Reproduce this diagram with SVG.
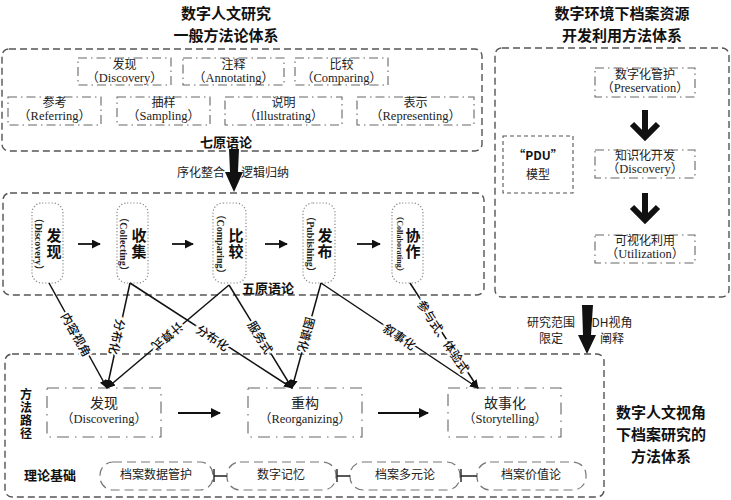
<svg xmlns="http://www.w3.org/2000/svg" width="731" height="500" viewBox="0 0 731 500">
<style>
.title{font-family:"Noto Sans CJK SC","Liberation Sans",sans-serif;font-size:15px;font-weight:700;fill:#111;text-anchor:middle}
.hd{font-family:"Noto Sans CJK SC","Liberation Sans",sans-serif;font-size:13px;font-weight:700;fill:#111;text-anchor:middle}
.outer{fill:none;stroke:#555;stroke-width:1.4;stroke-dasharray:7,4}
.dd{fill:none;stroke:#666;stroke-width:1.1;stroke-dasharray:9,4,1.5,4}
.dot{fill:none;stroke:#888;stroke-width:1.2;stroke-dasharray:1.2,2}
.zh{font-family:"Noto Sans CJK SC",sans-serif;font-size:12px;fill:#222;text-anchor:middle}
.en{font-family:"Liberation Serif","Noto Sans CJK SC",serif;font-size:12.5px;fill:#222;text-anchor:middle}
.vzh{font-family:"Noto Sans CJK SC",sans-serif;font-size:15px;font-weight:700;fill:#111;text-anchor:middle;writing-mode:vertical-rl;letter-spacing:1px}
.ven{font-family:"Liberation Serif","Noto Sans CJK SC",serif;font-size:10px;font-weight:700;fill:#222;text-anchor:middle;dominant-baseline:central}
.lbl{font-family:"Noto Sans CJK SC",sans-serif;font-size:12px;font-weight:500;fill:#111;text-anchor:middle;dominant-baseline:central;stroke:#fff;stroke-width:4;paint-order:stroke}
.ln{stroke:#111;stroke-width:1.5;fill:none}
.ar{stroke:#111;stroke-width:1.8;fill:none;marker-end:url(#ah)}
.th{fill:none;stroke:#777;stroke-width:1.2;stroke-dasharray:9,5}
.sm{font-family:"Noto Sans CJK SC",sans-serif;font-size:12px;fill:#222;text-anchor:middle}
.vt{font-family:"Noto Sans CJK SC",sans-serif;font-size:12px;font-weight:700;fill:#111;text-anchor:middle;writing-mode:vertical-rl;letter-spacing:1px}
</style>
<defs>
<marker id="ah" viewBox="0 0 10 10" refX="9" refY="5" markerWidth="5" markerHeight="5" orient="auto">
<path d="M0,0 L10,5 L0,10 z" fill="#111"/>
</marker>
<marker id="ah2" viewBox="0 0 10 10" refX="9" refY="5" markerWidth="6" markerHeight="6" orient="auto">
<path d="M0,1 L10,5 L0,9 z" fill="#111"/>
</marker>
</defs>
<rect width="731" height="500" fill="#fff"/>

<!-- titles -->
<text class="title" x="226" y="19">数字人文研究</text>
<text class="title" x="226" y="41">一般方法论体系</text>
<text class="title" x="622" y="19">数字环境下档案资源</text>
<text class="title" x="622" y="41">开发利用方法体系</text>

<!-- top box: seven primitives -->
<g id="seven">
<rect class="outer" x="2" y="49" width="480" height="102" rx="7"/>
<g id="t-discovery"><rect class="dd" x="78" y="58" width="93" height="27"/><text class="zh" x="124.5" y="69">发现</text><text class="en" x="124.5" y="82">（Discovery）</text></g>
<g id="t-annotating"><rect class="dd" x="183" y="58" width="101" height="27"/><text class="zh" x="233.5" y="69">注释</text><text class="en" x="233.5" y="82">（Annotating）</text></g>
<g id="t-comparing"><rect class="dd" x="295" y="58" width="93" height="27"/><text class="zh" x="341.5" y="69">比较</text><text class="en" x="341.5" y="82">（Comparing）</text></g>
<g id="t-referring"><rect class="dd" x="8" y="97" width="93" height="28"/><text class="zh" x="54.5" y="107">参考</text><text class="en" x="54.5" y="120">（Referring）</text></g>
<g id="t-sampling"><rect class="dd" x="117" y="97" width="93" height="28"/><text class="zh" x="163.5" y="107">抽样</text><text class="en" x="163.5" y="120">（Sampling）</text></g>
<g id="t-illustrating"><rect class="dd" x="225" y="97" width="117" height="28"/><text class="zh" x="283.5" y="107">说明</text><text class="en" x="283.5" y="120">（Illustrating）</text></g>
<g id="t-representing"><rect class="dd" x="357" y="97" width="117" height="28"/><text class="zh" x="415.5" y="107">表示</text><text class="en" x="415.5" y="120">（Representing）</text></g>
<text class="hd" x="226" y="147">七原语论</text>
</g>

<!-- big arrow top -->
<g id="arrow-top">
<polygon points="229,149 239,149 238,172 243,172 234,192 225,172 230,172" fill="#111"/>
<text class="sm" x="225" y="177" style="text-anchor:end">序化整合</text>
<text class="sm" x="241" y="177" style="text-anchor:start">逻辑归纳</text>
</g>

<!-- middle box: five primitives -->
<g id="five">
<rect class="outer" x="3" y="193" width="481" height="102" rx="7"/>
<g id="m-discovery"><rect class="dot" x="32" y="203" width="31" height="80" rx="10"/><text class="ven" transform="translate(38,244) rotate(90)">（Discovery）</text><text class="vzh" x="54" y="244">发现</text></g>
<g id="m-collecting"><rect class="dot" x="117" y="203" width="31" height="80" rx="10"/><text class="ven" transform="translate(123,244) rotate(90)">（Collecting）</text><text class="vzh" x="139" y="244">收集</text></g>
<g id="m-comparing"><rect class="dot" x="213" y="203" width="33" height="80" rx="10"/><text class="ven" transform="translate(220,244) rotate(90)">（Comparing）</text><text class="vzh" x="236" y="244">比较</text></g>
<g id="m-publishing"><rect class="dot" x="303" y="203" width="32" height="80" rx="10"/><text class="ven" transform="translate(310,244) rotate(90)">（Publishing）</text><text class="vzh" x="325" y="244">发布</text></g>
<g id="m-collaborating"><rect class="dot" x="392" y="203" width="31" height="80" rx="10"/><text class="ven" style="font-size:8px" transform="translate(399,244) rotate(90)">（Collaborating）</text><text class="vzh" x="413" y="244">协作</text></g>
<text class="hd" x="268" y="293">五原语论</text>
</g>

<!-- right box -->
<g id="pdu">
<rect class="outer" x="495" y="48" width="234" height="249" rx="7"/>
<g id="r-preservation"><rect class="dd" x="595" y="68" width="100" height="29"/><text class="zh" x="645" y="79">数字化管护</text><text class="en" x="645" y="92">（Preservation）</text></g>
<g id="r-discovery"><rect class="dd" x="595" y="150" width="100" height="28"/><text class="zh" x="645" y="160">知识化开发</text><text class="en" x="645" y="173">（Discovery）</text></g>
<g id="r-utilization"><rect class="dd" x="595" y="235" width="100" height="28"/><text class="zh" x="645" y="245">可视化利用</text><text class="en" x="645" y="258">（Utilization）</text></g>
<g id="r-model"><rect class="outer" style="stroke-dasharray:4,3;stroke-width:1.1" x="503" y="136" width="70" height="57"/><text class="hd" style="font-size:12px" x="538" y="160">“PDU”</text><text class="sm" x="538" y="179">模型</text></g>
<path d="M645,110 V137 M632,124 L645,137 L658,124" stroke="#111" stroke-width="6" fill="none"/>
<path d="M645,193 V220 M632,207 L645,220 L658,207" stroke="#111" stroke-width="6" fill="none"/>
</g>

<!-- right down arrow -->
<g id="arrow-right">
<polygon points="582,305 593,305 591,335 596,335 587,354 578,335 583,335" fill="#111"/>
<text class="sm" x="551" y="327">研究范围</text>
<text class="sm" x="551" y="343">限定</text>
<text class="sm" x="612" y="327">DH视角</text>
<text class="sm" x="612" y="343">阐释</text>
</g>

<!-- bottom box -->
<g id="method">
<rect class="outer" x="5" y="354" width="599" height="143" rx="7"/>
<text class="vt" x="26" y="414">方法路径</text>
<g id="b-discovering"><rect class="dd" style="stroke-dasharray:12,6,1.5,6" x="47" y="388" width="114" height="49"/><text class="zh" style="font-size:14px" x="104" y="408">发现</text><text class="en" x="104" y="423">（Discovering）</text></g>
<g id="b-reorganizing"><rect class="dd" style="stroke-dasharray:12,6,1.5,6" x="248" y="388" width="114" height="49"/><text class="zh" style="font-size:14px" x="305" y="408">重构</text><text class="en" x="305" y="423">（Reorganizing）</text></g>
<g id="b-storytelling"><rect class="dd" style="stroke-dasharray:12,6,1.5,6" x="448" y="388" width="113" height="49"/><text class="zh" style="font-size:14px" x="505" y="408">故事化</text><text class="en" x="505" y="423">（Storytelling）</text></g>
<text class="hd" x="50" y="480">理论基础</text>
<g id="th1"><rect class="th" x="100" y="462" width="113" height="28" rx="13"/><text class="sm" x="156" y="479">档案数据管护</text></g>
<g id="th2"><rect class="th" x="227" y="462" width="109" height="28" rx="13"/><text class="sm" x="281" y="479">数字记忆</text></g>
<g id="th3"><rect class="th" x="350" y="462" width="110" height="28" rx="13"/><text class="sm" x="405" y="479">档案多元论</text></g>
<g id="th4"><rect class="th" x="477" y="462" width="109" height="28" rx="13"/><text class="sm" x="531" y="479">档案价值论</text></g>
<path d="M214,469 V482 M214,476 H227 M337,469 V482 M337,476 H350 M461,469 V482 M461,476 H477" stroke="#222" stroke-width="1.4" fill="none"/>
</g>
<text class="title" x="661" y="418">数字人文视角</text>
<text class="title" x="661" y="440">下档案研究的</text>
<text class="title" x="661" y="462">方法体系</text>

<!-- connectors -->
<g id="connectors">
<path class="ar" d="M78,244 H100"/>
<path class="ar" d="M172,244 H193"/>
<path class="ar" d="M265,244 H287"/>
<path class="ar" d="M357,244 H380"/>
<path class="ar" style="stroke-width:2" d="M178,413 H220"/>
<path class="ar" style="stroke-width:2" d="M378,413 H428"/>
<g marker-end="url(#ah2)" class="ln">
<path d="M49,283 L107,388"/>
<path d="M130,283 L107,388"/>
<path d="M130,283 L292,388"/>
<path d="M229,285 L107,388"/>
<path d="M229,285 L292,388"/>
<path d="M321,283 L292,388"/>
<path d="M321,283 L478,388"/>
<path d="M410,283 L478,388"/>
</g>
<text class="lbl" transform="translate(77,334) rotate(61)">内容视角</text>
<text class="lbl" transform="translate(118,337) rotate(102)">分布化</text>
<text class="lbl" transform="translate(213,337) rotate(33)">分布化</text>
<text class="lbl" transform="translate(168,337) rotate(140)">计算式</text>
<text class="lbl" transform="translate(261,337) rotate(58.5)">服务式</text>
<text class="lbl" transform="translate(307,335) rotate(105)">图谱化</text>
<text class="lbl" transform="translate(400,336) rotate(34)">叙事化</text>
<text class="lbl" transform="translate(444,336) rotate(57)">参与式、体验式</text>
</g>
</svg>
